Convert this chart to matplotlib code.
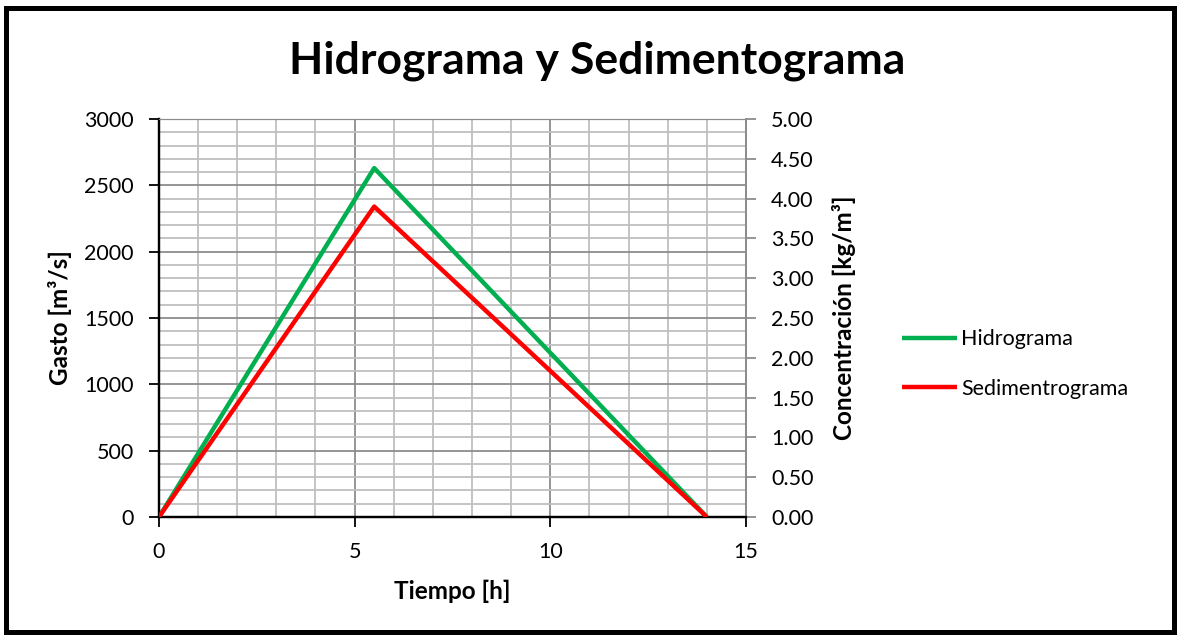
import matplotlib

matplotlib.use("Agg")
import matplotlib.pyplot as plt
from matplotlib.patches import Rectangle
from matplotlib.ticker import MultipleLocator, FormatStrFormatter

plt.rcParams["font.family"] = ["Lato", "DejaVu Sans"]

# data
tiempo_h = [0, 5.5, 14]
gasto = [0, 2630, 0]            # m3/s, left axis
tiempo_s = [0, 5.5, 14]
concentracion = [0, 3.90, 0]    # kg/m3, right axis

GREEN = "#00B050"
RED = "#FF0000"
MAJ = "#8C8C8C"
MIN = "#BFBFBF"

fig = plt.figure(figsize=(11.8, 6.36), dpi=100)
ax = fig.add_axes([0.1347, 0.1871, 0.4975, 0.6258])
ax2 = ax.twinx()

ax.set_xlim(0, 15)
ax.set_ylim(0, 3000)
ax2.set_ylim(0, 5)

ax.xaxis.set_major_locator(MultipleLocator(5))
ax.xaxis.set_minor_locator(MultipleLocator(1))
ax.yaxis.set_major_locator(MultipleLocator(500))
ax.yaxis.set_minor_locator(MultipleLocator(100))
ax2.yaxis.set_major_locator(MultipleLocator(0.5))
ax2.yaxis.set_major_formatter(FormatStrFormatter("%.2f"))

ax.grid(which="minor", color=MIN, lw=1.3)
ax.grid(which="major", color=MAJ, lw=1.3)
ax.set_axisbelow(True)

ax.plot(tiempo_h, gasto, color=GREEN, lw=3.2, label="Hidrograma",
        solid_capstyle="butt", zorder=3)
ax2.plot(tiempo_s, concentracion, color=RED, lw=3.2, label="Sedimentrograma",
         solid_capstyle="butt", zorder=3)

for a in (ax, ax2):
    a.spines["top"].set_color(MAJ)
    a.spines["right"].set_color(MAJ)
    a.spines["left"].set_color("black")
    a.spines["bottom"].set_color("black")
    a.spines["left"].set_linewidth(1.6)
    a.spines["bottom"].set_linewidth(1.6)
    a.spines["right"].set_linewidth(1.3)

ax.tick_params(axis="both", which="major", direction="out", length=7,
               width=1.3, labelsize=15.5, colors="black", pad=11)
ax.tick_params(axis="both", which="minor", length=0)
ax2.tick_params(axis="y", direction="out", length=7, width=1.3,
                color=MAJ, labelcolor="black", labelsize=15.5, pad=11)

ax.set_xlabel("Tiempo [h]", fontsize=17.5, fontweight="bold", labelpad=13)
ax.set_ylabel("Gasto [m³/s]", fontsize=17.5, fontweight="bold", labelpad=9)
ax2.set_ylabel("Concentración [kg/m³]", fontsize=17.5, fontweight="bold",
               labelpad=13)

fig.text(0.506, 0.905, "Hidrograma y Sedimentograma", ha="center",
         va="center", fontsize=32, fontweight="bold")

h1, l1 = ax.get_legend_handles_labels()
h2, l2 = ax2.get_legend_handles_labels()
fig.legend(h1 + h2, l1 + l2, loc="center left",
           bbox_to_anchor=(0.748, 0.428), frameon=False, fontsize=15.5,
           handlelength=2.55, handletextpad=0.2, labelspacing=1.37)

fig.patches.append(Rectangle((0.0055, 0.006), 0.989, 0.982,
                             transform=fig.transFigure, fill=False,
                             edgecolor="black", lw=3.6))

fig.savefig("out.png", dpi=100)
